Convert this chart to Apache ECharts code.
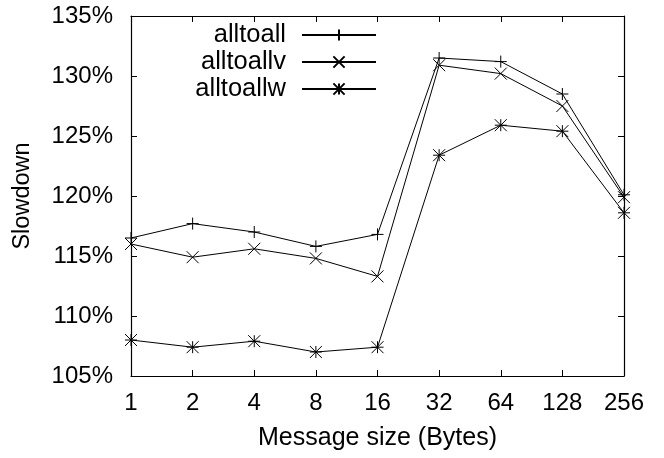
<!DOCTYPE html>
<html>
<head>
<meta charset="utf-8">
<script src="https://cdn.jsdelivr.net/npm/echarts@6/dist/echarts.min.js"></script>
<style>
  html, body { margin: 0; padding: 0; background: #fff; }
  #chart { width: 664px; height: 458px; }
</style>
</head>
<body>
<div id="chart"></div>
<script>
// Message sizes in bytes (x categories)
const sizes = ['1', '2', '4', '8', '16', '32', '64', '128', '256'];

// Slowdown in percent for each collective
const alltoall  = [116.5, 117.7, 117.0, 115.8, 116.8, 131.5, 131.2, 128.5, 120.1];
const alltoallv = [116.0, 114.9, 115.6, 114.8, 113.3, 130.9, 130.2, 127.5, 119.9];
const alltoallw = [108.0, 107.4, 107.9, 107.0, 107.4, 123.4, 125.9, 125.4, 118.6];

// y-axis range
const yMin = 105, yMax = 135, yStep = 5;

const FONT = '"Liberation Sans", Arial, Helvetica, sans-serif';

// gnuplot-style point markers
const PLUS  = 'path://M0,-10L0,10M-10,0L10,0';
const CROSS = 'path://M-10,-10L10,10M-10,10L10,-10';
const STAR  = 'path://M0,-10L0,10M-10,0L10,0M-10,-10L10,10M-10,10L10,-10';

function lineSeries(name, data, symbol) {
  return {
    name: name,
    type: 'line',
    data: data,
    symbol: symbol,
    symbolSize: 12,
    showAllSymbol: true,
    lineStyle: { color: '#000', width: 1 },
    itemStyle: { color: '#000', borderColor: '#000', borderWidth: 1 },
    emphasis: { disabled: true },
    animation: false,
    z: 3
  };
}

const chart = echarts.init(document.getElementById('chart'), null, { renderer: 'canvas' });

const tickStyle = { show: true, inside: true, length: 6, lineStyle: { color: '#000', width: 1 } };
const axisLine = { show: true, onZero: false, lineStyle: { color: '#000', width: 1.2 } };

chart.setOption({
  backgroundColor: '#fff',
  animation: false,
  textStyle: { fontFamily: FONT, color: '#000' },
  grid: { left: 131, top: 16, right: 40, bottom: 82, containLabel: false },
  legend: {
    orient: 'vertical',
    right: 287,
    top: 22,
    padding: 0,
    align: 'right',
    itemWidth: 74,
    itemHeight: 14,
    itemGap: 1,
    selectedMode: false,
    textStyle: { fontFamily: FONT, fontSize: 25.5, color: '#000', padding: [0, 11, 0, 0] },
    data: ['alltoall', 'alltoallv', 'alltoallw']
  },
  xAxis: [
    {
      type: 'category',
      data: sizes,
      boundaryGap: false,
      position: 'bottom',
      name: 'Message size (Bytes)',
      nameLocation: 'middle',
      nameGap: 50,
      nameTextStyle: { fontFamily: FONT, fontSize: 25, color: '#000' },
      axisLine: axisLine,
      axisTick: Object.assign({ alignWithLabel: true }, tickStyle),
      axisLabel: { fontFamily: FONT, fontSize: 24, color: '#000', margin: 15 },
      splitLine: { show: false }
    },
    {
      type: 'category',
      data: sizes,
      boundaryGap: false,
      position: 'top',
      axisLine: axisLine,
      axisTick: tickStyle,
      axisLabel: { show: false },
      splitLine: { show: false }
    }
  ],
  yAxis: [
    {
      type: 'value',
      min: yMin,
      max: yMax,
      interval: yStep,
      position: 'left',
      name: 'Slowdown',
      nameLocation: 'middle',
      nameGap: 96,
      nameTextStyle: { fontFamily: FONT, fontSize: 23.5, color: '#000' },
      axisLine: axisLine,
      axisTick: tickStyle,
      axisLabel: { fontFamily: FONT, fontSize: 24, color: '#000', margin: 18, formatter: '{value}%' },
      splitLine: { show: false }
    },
    {
      type: 'value',
      min: yMin,
      max: yMax,
      interval: yStep,
      position: 'right',
      axisLine: axisLine,
      axisTick: tickStyle,
      axisLabel: { show: false },
      splitLine: { show: false }
    }
  ],
  series: [
    lineSeries('alltoall', alltoall, PLUS),
    lineSeries('alltoallv', alltoallv, CROSS),
    lineSeries('alltoallw', alltoallw, STAR)
  ]
});
</script>
</body>
</html>
